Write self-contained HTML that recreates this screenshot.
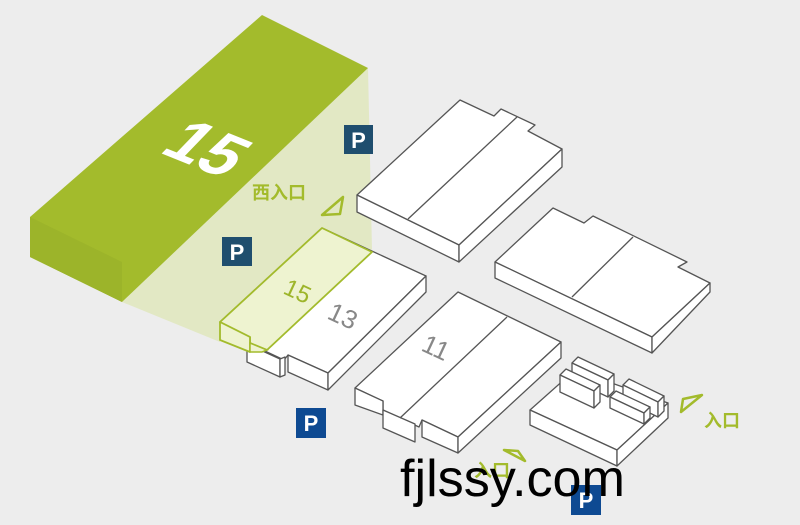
<!DOCTYPE html>
<html><head><meta charset="utf-8"><style>
html,body{margin:0;padding:0;background:#ededed}
svg{display:block}
text{font-family:"Liberation Sans","Noto Sans CJK SC",sans-serif}
</style></head><body>
<svg width="800" height="525" viewBox="0 0 800 525" xmlns="http://www.w3.org/2000/svg">
<rect width="800" height="525" fill="#ededed"/>
<polygon points="122,302 368,68 372,250 322,228 220,322 220,342" fill="#e2e8c2" opacity="0.95"/>
<polygon points="30,217 262,15 368,68 122,302 30,257" fill="#a3bb2c"/>
<polygon points="30,217 122,262 122,302 30,257" fill="#9cb42a"/>
<text x="0" y="0" transform="translate(158,152) rotate(22) skewX(-22)" font-size="64" font-weight="bold" fill="#fff">15</text>

<g stroke="#555" stroke-width="1.3" stroke-linejoin="round" fill="#fff">
<polygon points="357,195 460,100 494,116 501,109 535,125 528,131 562,149 459,245"/>
<polygon points="357,195 459,245 459,262 357,212"/>
<polygon points="459,245 562,149 562,167 459,262"/>
<line x1="517" y1="117" x2="408" y2="219"/>
<polygon points="495,262 553,208 584,223 593,216 687,262 678,267 710,283 652,337"/>
<polygon points="495,262 652,337 652,353 495,278"/>
<polygon points="652,337 710,283 710,292 652,353"/>
<line x1="633" y1="237" x2="572" y2="297"/>
<polygon points="220,322 322,228 426,276 328,373 288,355 284,360 250,344 250,337"/>
<polygon points="247,344 280,359 280,377 247,362"/>
<polygon points="280,359 285,357 285,375 280,377"/>
<polygon points="288,355 328,373 328,390 288,372"/>
<polygon points="328,373 426,276 426,292 328,390"/>
<polygon points="355,388 458,292 561,342 458,437 422,420 419,427 397,417 383,410 383,401"/>
<polygon points="355,388 383,401 383,415 355,405"/>
<polygon points="383,410 415,424 415,442 383,428"/>
<polygon points="422,420 458,437 458,453 422,437"/>
<polygon points="458,437 561,342 561,358 458,453"/>
<line x1="507" y1="317" x2="400" y2="418"/>
<polygon points="530,410 575,370 668,403 617,450"/>
<polygon points="530,410 617,450 617,466 530,425"/>
<polygon points="617,450 668,403 668,418 617,466"/>
<polygon points="572,363 578,357 614,374 608,380"/>
<polygon points="572,363 608,380 608,397 572,380"/>
<polygon points="608,380 614,374 614,391 608,397"/>
<polygon points="560,375 566,369 600,385 594,391"/>
<polygon points="560,375 594,391 594,408 560,392"/>
<polygon points="594,391 600,385 600,402 594,408"/>
<polygon points="623,385 629,379 664,396 658,402"/>
<polygon points="623,385 658,402 658,417 623,400"/>
<polygon points="658,402 664,396 664,411 658,417"/>
<polygon points="610,397 616,391 650,407 644,413"/>
<polygon points="610,397 644,413 644,424 610,408"/>
<polygon points="644,413 650,407 650,418 644,424"/>
</g>
<polygon points="220,322 322,228 372,252 267,350 250,343 250,337" fill="#eef3d0" stroke="#a3bb2c" stroke-width="1.8" stroke-linejoin="round"/>
<polygon points="220,322 250,337 250,352 220,340" fill="#eef3d0" stroke="#a3bb2c" stroke-width="1.8" stroke-linejoin="round"/>
<polygon points="250,343 267,350 262,352 250,352" fill="#eef3d0" stroke="#a3bb2c" stroke-width="1.5"/>
<text transform="translate(282,293) rotate(25)" font-size="24" fill="#9db52a">15</text>
<text transform="translate(326,318) rotate(25)" font-size="26" fill="#888">13</text>
<text transform="translate(420,350) rotate(25)" font-size="26" fill="#888">11</text>

<text x="252" y="199" font-size="18" font-weight="bold" fill="#a3bb2c">西入口</text>
<polygon points="343,197 340,214 322,215" fill="none" stroke="#a3bb2c" stroke-width="2.5" stroke-linejoin="round"/>
<polygon points="702,395 683,399 681,412" fill="none" stroke="#a3bb2c" stroke-width="2.5" stroke-linejoin="round"/>
<text x="704" y="427" font-size="18" font-weight="bold" fill="#a3bb2c">入口</text>
<polygon points="504,450 518,451 525,461" fill="none" stroke="#a3bb2c" stroke-width="2.5" stroke-linejoin="round"/>
<text x="474" y="477" font-size="18" font-weight="bold" fill="#a3bb2c">入口</text>

<rect x="344" y="125" width="29" height="29" fill="#1f4e6e"/>
<text x="358.5" y="148" font-size="22" font-weight="bold" fill="#fff" text-anchor="middle">P</text>
<rect x="222" y="237" width="30" height="29" fill="#1f4e6e"/>
<text x="237" y="260" font-size="22" font-weight="bold" fill="#fff" text-anchor="middle">P</text>
<rect x="296" y="408" width="30" height="30" fill="#0e4a92"/>
<text x="311" y="431" font-size="22" font-weight="bold" fill="#fff" text-anchor="middle">P</text>
<rect x="571" y="485" width="30" height="30" fill="#0e4a92"/>
<text x="586" y="508" font-size="22" font-weight="bold" fill="#fff" text-anchor="middle">P</text>

<text x="400" y="496" font-size="52" fill="#000" textLength="225" lengthAdjust="spacingAndGlyphs">fjlssy.com</text>
</svg>
</body></html>
